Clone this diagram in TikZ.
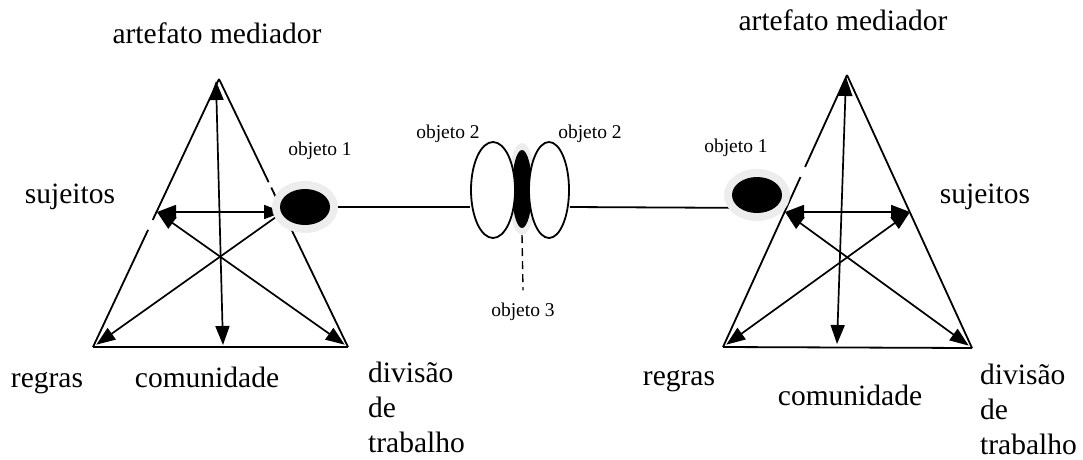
\documentclass[tikz,border=0pt]{standalone}
\usepackage{fontspec}
\setmainfont{Liberation Serif}
\usetikzlibrary{arrows.meta,shapes.geometric,calc}
\pgfdeclarelayer{bg}
\pgfsetlayers{bg,main}
\begin{document}
\begin{tikzpicture}[x=1pt,y=-1pt,
  side/.style={line width=1.8pt},
  tipk/.tip={Triangle[length=19pt,width=14pt]},
  arr/.style={line width=1.7pt,-tipk},
  darr/.style={line width=1.7pt,tipk-tipk},
  big/.style={font=\fontsize{29.5}{35}\selectfont, inner sep=0pt},
  small/.style={font=\fontsize{19.5}{23}\selectfont, inner sep=0pt},
  halo/.style={ellipse, fill=black!7, inner sep=0pt},
  blob/.style={ellipse, fill=black, inner sep=0pt},
  oval/.style={ellipse, draw, fill=white, line width=1.8pt, inner sep=0pt}]
\useasboundingbox (0,0) rectangle (1083,459);

% ---------- left triangle coordinates ----------
\coordinate (A) at (219,79);
\coordinate (BL) at (93,347);
\coordinate (BR) at (348,347);
\coordinate (S) at (157,212);
\coordinate (O) at (283,212);
\coordinate (Vt) at (216,81);
\coordinate (Vb) at (223,345);

% ---------- right triangle coordinates ----------
\coordinate (A2) at (847,75);
\coordinate (BL2) at (723,347);
\coordinate (BR2) at (972,348);
\coordinate (SL) at (785,212);
\coordinate (SR) at (910,212);
\coordinate (Wt) at (846,77);
\coordinate (Wb) at (837,344);

% ---------- objects ----------
\node[halo, minimum width=66pt, minimum height=52pt] (h1) at (305,207) {};
\node[blob, minimum width=50pt, minimum height=36pt] (b1) at (305,207) {};
\node[halo, minimum width=66pt, minimum height=52pt] (h2) at (757,195) {};
\node[blob, minimum width=50pt, minimum height=36pt] (b2) at (757,195) {};
\node[halo, minimum width=28pt, minimum height=92pt] (hm) at (522,189) {};
\node[blob, minimum width=20pt, minimum height=78pt] (bm) at (522,189) {};
\node[oval, minimum width=44pt, minimum height=96pt] (e2L) at (493,190) {};
\node[oval, minimum width=40pt, minimum height=96pt] (e2R) at (549,190) {};

\begin{pgfonlayer}{bg}
% left triangle
\draw[side] (BL) -- (BR);
\draw[side] (BL) -- ($(BL)!0.437!(A)$);
\draw[side] ($(BL)!0.474!(A)$) -- (A);
\draw[side] (A) -- ($(A)!0.385!(BR)$);
\draw[side] ($(A)!0.405!(BR)$) -- (BR);
\draw[darr] (Vb) -- (Vt);
\draw[darr] (O) -- (S);
\draw[arr] (O) -- ($(BL)!4pt!(O)$);
\draw[darr] (S) -- ($(BR)!4pt!(S)$);
% right triangle
\draw[side] (BL2) -- (BR2);
\draw[side] (BL2) -- ($(BL2)!0.625!(A2)$);
\draw[side] ($(BL2)!0.662!(A2)$) -- (A2);
\draw[side] (A2) -- (BR2);
\draw[darr] (Wb) -- (Wt);
\draw[darr] (SL) -- (SR);
\draw[darr] (SL) -- ($(BR2)!4pt!(SL)$);
\draw[darr] (SR) -- ($(BL2)!4pt!(SR)$);
% connecting line
\draw[side] (b1.east) -- (b1.east -| e2L.west);
\draw[side] (e2R.east |- b1.east) -- (b2.south west);
\end{pgfonlayer}

% ---------- labels ----------
\node[big, anchor=base] (am1) at (217,43) {artefato mediador};
\node[big, anchor=base] (am2) at (843,30) {artefato mediador};
\node[big, anchor=base] (s1) at (70,203) {sujeitos};
\node[big, anchor=base] (s2) at (985,203) {sujeitos};
\node[small, anchor=base] (l1) at (320,155) {objeto 1};
\node[small, anchor=base] (l2) at (736,152) {objeto 1};
\node[small, anchor=base] (l3) at (448,138) {objeto 2};
\node[small, anchor=base] (l4) at (590,138) {objeto 2};
\node[small, anchor=base] (o3) at (523,316) {objeto 3};
\node[big, anchor=base] (r1) at (47,387) {regras};
\node[big, anchor=base] (c1) at (207,387) {comunidade};
\node[big, anchor=north west, align=left] (d1) at (368,362) {divisão\\de\\trabalho};
\node[big, anchor=base] (r2) at (679,385) {regras};
\node[big, anchor=base] (c2) at (850,405) {comunidade};
\node[big, anchor=north west, align=left] (d2) at (980,364) {divisão\\de\\trabalho};

\draw[line width=1.4pt, dash pattern=on 8pt off 5pt] (hm.south) -- ($(o3.north)+(0,-12)$);
\end{tikzpicture}
\end{document}
